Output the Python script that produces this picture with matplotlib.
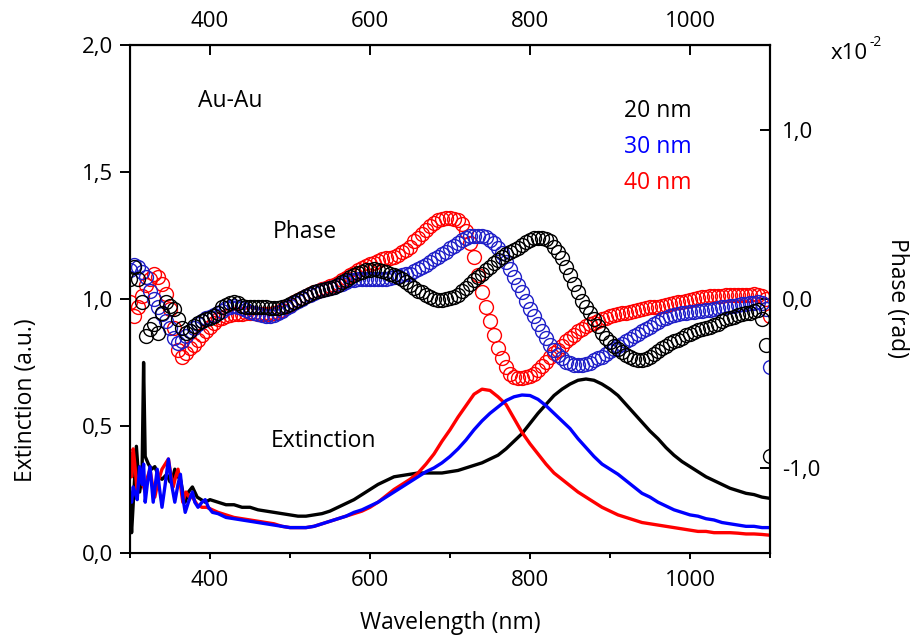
import numpy as np
import matplotlib
matplotlib.use("Agg")
import matplotlib.pyplot as plt
from matplotlib.ticker import FuncFormatter, MultipleLocator, FixedLocator

plt.rcParams['font.family'] = ['Open Sans', 'DejaVu Sans']
plt.rcParams['font.size'] = 16.5

# ---- extinction spectra (left axis) ----
ext_wl_20 = [300, 302, 305, 308, 312, 315, 317, 319, 323, 327, 331, 336, 340, 346,
             350, 353, 356, 360, 363, 366, 369, 373, 378, 384, 389, 394, 400] + list(range(410, 1101, 10))
ext_20 = [0.20, 0.08, 0.25, 0.42, 0.24, 0.30, 0.75, 0.38, 0.35, 0.33, 0.34, 0.30, 0.29, 0.31,
          0.28, 0.29, 0.33, 0.30, 0.29, 0.24, 0.20, 0.24, 0.26, 0.22, 0.21, 0.20, 0.21,
          0.20, 0.19, 0.19, 0.18, 0.18, 0.17, 0.165, 0.16, 0.155, 0.15,
          0.145, 0.145, 0.15, 0.155, 0.165, 0.18, 0.195, 0.21, 0.23, 0.25,
          0.27, 0.285, 0.30, 0.305, 0.31, 0.315, 0.315, 0.315, 0.315, 0.32,
          0.325, 0.335, 0.345, 0.355, 0.37, 0.385, 0.41, 0.44, 0.47, 0.51,
          0.55, 0.585, 0.62, 0.645, 0.665, 0.68, 0.685, 0.68, 0.665, 0.645,
          0.62, 0.585, 0.55, 0.515, 0.48, 0.45, 0.415, 0.385, 0.36, 0.34,
          0.32, 0.30, 0.285, 0.27, 0.255, 0.245, 0.235, 0.23, 0.22, 0.215]

ext_wl_30 = [300, 302, 304, 306, 309, 312, 315, 317, 319, 322, 325, 329, 334, 337, 340, 344,
             348, 352, 356, 360, 363, 366, 369, 373, 378, 381, 385, 390, 394, 398, 403] + list(range(410, 1101, 10))
ext_30 = [0.22, 0.20, 0.26, 0.24, 0.21, 0.34, 0.27, 0.35, 0.20, 0.28, 0.34, 0.20, 0.33, 0.25, 0.18, 0.27,
          0.37, 0.27, 0.20, 0.27, 0.31, 0.22, 0.16, 0.20, 0.24, 0.20, 0.18, 0.20, 0.21, 0.18, 0.16,
          0.155, 0.14, 0.135, 0.13, 0.125, 0.12, 0.115, 0.11, 0.105, 0.10,
          0.10, 0.10, 0.105, 0.115, 0.125, 0.135, 0.145, 0.16, 0.17, 0.185,
          0.20, 0.22, 0.24, 0.26, 0.28, 0.30, 0.32, 0.335, 0.355, 0.38,
          0.41, 0.445, 0.485, 0.52, 0.55, 0.575, 0.60, 0.615, 0.622, 0.62,
          0.605, 0.58, 0.55, 0.52, 0.49, 0.45, 0.415, 0.38, 0.35, 0.33,
          0.31, 0.285, 0.26, 0.235, 0.22, 0.20, 0.185, 0.17, 0.16, 0.15,
          0.145, 0.135, 0.13, 0.12, 0.115, 0.11, 0.105, 0.105, 0.10, 0.10]

ext_wl_40 = [300, 302, 304, 306, 309, 312, 315, 319, 322, 325, 328, 331, 335, 340, 344,
             348, 351, 354, 357, 360, 363, 366, 370, 374, 378, 384, 390, 396, 403] + list(range(410, 1101, 10))
ext_40 = [0.39, 0.30, 0.41, 0.35, 0.24, 0.31, 0.28, 0.24, 0.30, 0.33, 0.27, 0.22, 0.28, 0.33, 0.35,
          0.37, 0.31, 0.26, 0.30, 0.33, 0.27, 0.20, 0.24, 0.22, 0.22, 0.19, 0.18, 0.18, 0.17,
          0.16, 0.15, 0.14, 0.135, 0.13, 0.125, 0.12, 0.115, 0.105, 0.10,
          0.10, 0.10, 0.105, 0.115, 0.125, 0.135, 0.145, 0.155, 0.165, 0.18,
          0.20, 0.225, 0.25, 0.27, 0.29, 0.315, 0.35, 0.39, 0.44, 0.485,
          0.535, 0.58, 0.625, 0.645, 0.64, 0.615, 0.585, 0.53, 0.475, 0.43,
          0.39, 0.35, 0.315, 0.29, 0.265, 0.24, 0.22, 0.20, 0.18, 0.165,
          0.15, 0.14, 0.13, 0.12, 0.115, 0.11, 0.105, 0.10, 0.095, 0.09,
          0.085, 0.085, 0.08, 0.08, 0.08, 0.078, 0.075, 0.075, 0.073, 0.07]

# ---- phase spectra (right axis, units of 1e-2 rad), sampled every 5 nm ----
phase_wl = np.arange(300, 1101, 5)
phase_20 = [0.12, 0.19, 0.12, -0.02, -0.22, -0.18, -0.15, -0.20, -0.08, -0.02,
            -0.04, -0.06, -0.12, -0.17, -0.20, -0.19, -0.16, -0.14, -0.13, -0.12,
            -0.11, -0.10, -0.08, -0.05, -0.035, -0.025, -0.02, -0.025, -0.04, -0.05,
            -0.05, -0.05, -0.05, -0.05, -0.05, -0.055, -0.055, -0.055, -0.05, -0.04,
            -0.03, -0.02, -0.005, 0.005, 0.02, 0.03, 0.04, 0.05, 0.055, 0.06,
            0.065, 0.07, 0.085, 0.10, 0.115, 0.13, 0.14, 0.155, 0.16, 0.17,
            0.17, 0.175, 0.17, 0.165, 0.16, 0.15, 0.14, 0.13, 0.12, 0.10,
            0.08, 0.065, 0.05, 0.04, 0.025, 0.01, 0.0, -0.005, -0.005, 0.0,
            0.005, 0.01, 0.025, 0.045, 0.065, 0.09, 0.11, 0.13, 0.15, 0.17,
            0.19, 0.21, 0.23, 0.25, 0.265, 0.28, 0.29, 0.30, 0.32, 0.335,
            0.35, 0.36, 0.36, 0.36, 0.355, 0.34, 0.31, 0.28, 0.24, 0.19,
            0.14, 0.09, 0.04, -0.01, -0.05, -0.08, -0.12, -0.16, -0.20, -0.23,
            -0.255, -0.275, -0.295, -0.315, -0.33, -0.345, -0.355, -0.36, -0.36, -0.355,
            -0.34, -0.325, -0.31, -0.29, -0.275, -0.26, -0.25, -0.24, -0.23, -0.215,
            -0.205, -0.195, -0.185, -0.18, -0.17, -0.165, -0.155, -0.145, -0.13, -0.12,
            -0.115, -0.105, -0.095, -0.09, -0.085, -0.08, -0.07, -0.065, -0.12, -0.27,
            -0.93]
phase_30 = [0.17, 0.20, 0.19, 0.16, 0.13, 0.05, 0.0, -0.05, -0.09, -0.13,
            -0.17, -0.23, -0.26, -0.25, -0.22, -0.19, -0.17, -0.15, -0.13, -0.115,
            -0.105, -0.095, -0.085, -0.07, -0.055, -0.045, -0.04, -0.045, -0.055, -0.065,
            -0.075, -0.085, -0.09, -0.095, -0.10, -0.10, -0.095, -0.085, -0.07, -0.055,
            -0.04, -0.025, -0.01, 0.0, 0.015, 0.025, 0.035, 0.045, 0.055, 0.06,
            0.065, 0.07, 0.08, 0.09, 0.10, 0.11, 0.115, 0.12, 0.12, 0.12,
            0.12, 0.12, 0.12, 0.12, 0.12, 0.125, 0.13, 0.135, 0.14, 0.145,
            0.15, 0.165, 0.18, 0.19, 0.20, 0.22, 0.235, 0.25, 0.265, 0.28,
            0.30, 0.315, 0.33, 0.35, 0.36, 0.37, 0.375, 0.375, 0.37, 0.365,
            0.35, 0.33, 0.30, 0.27, 0.22, 0.18, 0.13, 0.085, 0.04, -0.01,
            -0.06, -0.10, -0.145, -0.19, -0.23, -0.27, -0.30, -0.33, -0.35, -0.37,
            -0.38, -0.39, -0.39, -0.39, -0.385, -0.375, -0.36, -0.35, -0.34, -0.325,
            -0.31, -0.295, -0.28, -0.265, -0.25, -0.235, -0.22, -0.205, -0.19, -0.18,
            -0.165, -0.15, -0.135, -0.12, -0.11, -0.10, -0.095, -0.09, -0.085, -0.08,
            -0.075, -0.075, -0.07, -0.07, -0.065, -0.065, -0.06, -0.055, -0.05, -0.045,
            -0.04, -0.04, -0.035, -0.03, -0.03, -0.025, -0.025, -0.02, -0.025, -0.06,
            -0.40]
phase_40 = [-0.02, -0.10, -0.05, 0.02, 0.08, 0.12, 0.15, 0.13, 0.09, 0.03,
            -0.06, -0.17, -0.30, -0.34, -0.32, -0.29, -0.27, -0.24, -0.21, -0.19,
            -0.165, -0.14, -0.12, -0.11, -0.10, -0.095, -0.09, -0.09, -0.09, -0.085,
            -0.085, -0.085, -0.09, -0.09, -0.09, -0.09, -0.085, -0.075, -0.065, -0.05,
            -0.035, -0.02, -0.005, 0.005, 0.02, 0.03, 0.04, 0.05, 0.06, 0.065,
            0.075, 0.085, 0.095, 0.11, 0.125, 0.14, 0.155, 0.17, 0.185, 0.195,
            0.205, 0.215, 0.225, 0.235, 0.24, 0.245, 0.25, 0.26, 0.275, 0.29,
            0.31, 0.34, 0.36, 0.385, 0.41, 0.43, 0.45, 0.465, 0.475, 0.48,
            0.48, 0.475, 0.465, 0.44, 0.40, 0.33, 0.25, 0.14, 0.04, -0.05,
            -0.13, -0.21, -0.29, -0.35, -0.40, -0.44, -0.46, -0.465, -0.465, -0.46,
            -0.455, -0.44, -0.42, -0.395, -0.37, -0.345, -0.32, -0.30, -0.275, -0.25,
            -0.23, -0.21, -0.19, -0.175, -0.16, -0.15, -0.14, -0.13, -0.12, -0.11,
            -0.10, -0.095, -0.09, -0.085, -0.08, -0.075, -0.07, -0.065, -0.06, -0.055,
            -0.05, -0.05, -0.045, -0.04, -0.035, -0.03, -0.025, -0.02, -0.015, -0.01,
            -0.005, 0.0, 0.005, 0.01, 0.01, 0.015, 0.015, 0.02, 0.02, 0.025,
            0.025, 0.025, 0.025, 0.025, 0.025, 0.025, 0.03, 0.025, 0.02, 0.0,
            -0.10]

sizes = ["20 nm", "30 nm", "40 nm"]
colors = ["black", "blue", "red"]


def comma(v, pos):
    return f"{v:.1f}".replace(".", ",")


fig = plt.figure(figsize=(9.12, 6.37), dpi=100)
ax = fig.add_axes([130 / 912, 84 / 637, 640 / 912, 508 / 637])

# extinction lines
ax.plot(ext_wl_20, ext_20, color="black", lw=2.4)
ax.plot(ext_wl_40, ext_40, color="red", lw=2.4)
ax.plot(ext_wl_30, ext_30, color="blue", lw=2.4)

ax.set_xlim(300, 1100)
ax.set_ylim(0, 2.0)
ax.xaxis.set_major_locator(FixedLocator([400, 600, 800, 1000]))
ax.xaxis.set_minor_locator(MultipleLocator(100))
ax.yaxis.set_major_locator(MultipleLocator(0.5))
ax.yaxis.set_major_formatter(FuncFormatter(comma))
ax.tick_params(axis="x", which="major", direction="out", length=4.5, width=1.4, pad=7.5,
               labelsize=16)
ax.tick_params(axis="x", which="minor", direction="out", length=3.5, width=1.4)
ax.tick_params(axis="y", direction="out", length=7, width=1.4, pad=5, labelsize=16)
for side in ["left", "bottom", "top", "right"]:
    ax.spines[side].set_linewidth(1.5)

ax.set_xlabel("Wavelength (nm)")
ax.xaxis.set_label_coords(0.5, -0.115)
ax.set_ylabel("Extinction (a.u.)", va="center", ha="center")
ax.yaxis.set_label_coords(-0.163, 0.30)

# top axis repeats the wavelength scale
top = ax.secondary_xaxis("top")
top.xaxis.set_major_locator(FixedLocator([400, 600, 800, 1000]))
top.tick_params(direction="in", length=7, width=1.4, pad=9, labelsize=16)
top.spines["top"].set_linewidth(1.5)

# phase on the right axis (open circles)
ax2 = ax.twinx()
for vals, c in zip([phase_40, phase_30, phase_20], ["red", "#1f1fc8", "black"]):
    ax2.plot(phase_wl, vals, ls="none", marker="o", ms=10, mfc="none", mec=c, mew=1.0)
ax2.set_ylim(-1.5, 1.5)
ax2.yaxis.set_major_locator(FixedLocator([-1.0, 0.0, 1.0]))
ax2.yaxis.set_major_formatter(FuncFormatter(comma))
ax2.tick_params(axis="y", direction="in", length=7, width=1.4, pad=8.5, labelsize=16)
ax2.set_ylabel("Phase (rad)", rotation=270, va="center", ha="center")
ax2.yaxis.set_label_coords(1.198, 0.502)
ax2.spines["right"].set_linewidth(1.5)
ax2.text(1.094, 0.984, "x10", transform=ax2.transAxes, ha="left", va="center", fontsize=16)
ax2.text(1.156, 1.005, "-2", transform=ax2.transAxes, ha="left", va="center", fontsize=10)

# annotations
ax.text(425, 1.78, "Au-Au", ha="center", va="center")
ax.text(518, 1.264, "Phase", ha="center", va="center")
ax.text(542, 0.44, "Extinction", ha="center", va="center")
for i, (label, c) in enumerate(zip(sizes, colors)):
    ax.text(918, 1.74 - i * 0.142, label, color=c, ha="left", va="center")

fig.savefig("out.png", dpi=100)
